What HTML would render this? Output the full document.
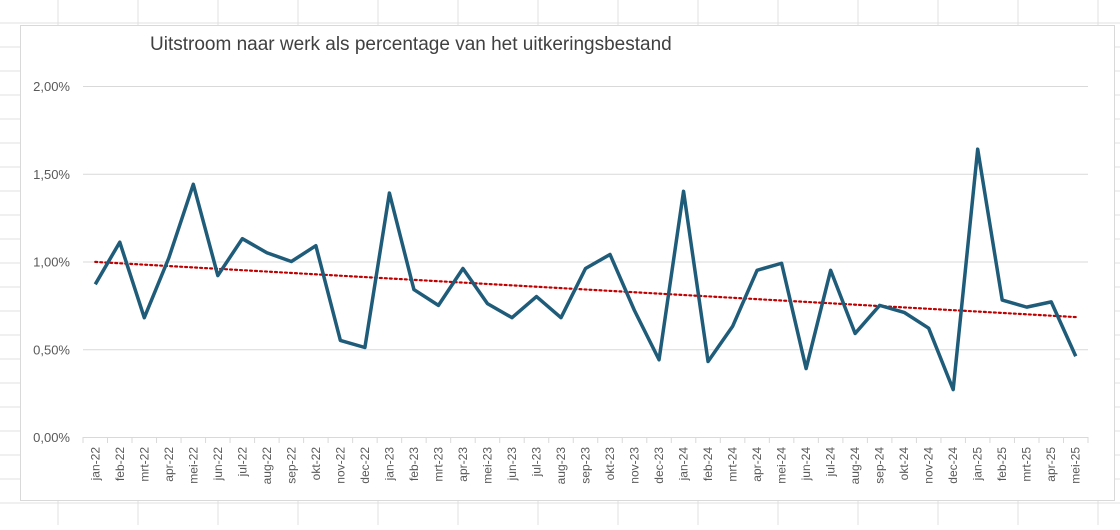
<!DOCTYPE html>
<html><head><meta charset="utf-8"><style>
body{margin:0;width:1120px;height:525px;overflow:hidden;background:#fff;font-family:"Liberation Sans",sans-serif}
</style></head><body>
<svg id="c" width="1120" height="525" xmlns="http://www.w3.org/2000/svg">
<g id="sheet"></g>
<rect x="20.5" y="25.5" width="1094" height="475" fill="#fff" stroke="#d9d9d9"/>
<text x="150" y="50" font-size="19" fill="#404040">Uitstroom naar werk als percentage van het uitkeringsbestand</text>
<g id="grid"></g>
<g id="yax"></g>
<g id="xax"></g>
<g id="plot"></g>
</svg>
<script>
const categories=["jan-22","feb-22","mrt-22","apr-22","mei-22","jun-22","jul-22","aug-22","sep-22","okt-22","nov-22","dec-22","jan-23","feb-23","mrt-23","apr-23","mei-23","jun-23","jul-23","aug-23","sep-23","okt-23","nov-23","dec-23","jan-24","feb-24","mrt-24","apr-24","mei-24","jun-24","jul-24","aug-24","sep-24","okt-24","nov-24","dec-24","jan-25","feb-25","mrt-25","apr-25","mei-25"];
const values=[0.87,1.11,0.68,1.02,1.44,0.92,1.13,1.05,1.00,1.09,0.55,0.51,1.39,0.84,0.75,0.96,0.76,0.68,0.80,0.68,0.96,1.04,0.72,0.44,1.40,0.43,0.63,0.95,0.99,0.39,0.95,0.59,0.75,0.71,0.62,0.27,1.64,0.78,0.74,0.77,0.46];
const yTicks=[0,0.5,1,1.5,2];
const yLabels=["0,00%","0,50%","1,00%","1,50%","2,00%"];
const NS="http://www.w3.org/2000/svg";
const L=83,R=1088,Y0=437,Y2=86,YMAX=2;
const step=(R-L)/categories.length;
const x=i=>L+step*(i+0.5);
const y=v=>Y0-(v/YMAX)*(Y0-Y2);
function mk(t,a,p){const e=document.createElementNS(NS,t);for(const k in a)e.setAttribute(k,a[k]);p.appendChild(e);return e;}
// sheet grid
const sh=document.getElementById('sheet');
for(let gx=58;gx<1120;gx+=80){const e=mk('line',{x1:gx,y1:0,x2:gx,y2:525,stroke:'#e0e0e0'},sh);

}
for(let gy=23;gy<525;gy+=24){const e=mk('line',{x1:0,y1:gy,x2:1120,y2:gy,stroke:'#e0e0e0'},sh);

}
const g=document.getElementById('grid'),ya=document.getElementById('yax'),xa=document.getElementById('xax'),p=document.getElementById('plot');
yTicks.forEach((t,i)=>{
 if(t>0){const l=mk('line',{x1:L,x2:R,y1:y(t)+0.5,y2:y(t)+0.5,stroke:'#d9d9d9'},g);
 
 }
 const tx=mk('text',{x:70,y:y(t)+5,'text-anchor':'end','font-size':13,fill:'#595959'},ya);tx.textContent=yLabels[i];
 
 
});
const ax=mk('line',{x1:L,x2:R,y1:Y0+0.5,y2:Y0+0.5,stroke:'#d9d9d9'},xa);


for(let i=0;i<=categories.length;i++){const tk=mk('line',{x1:L+step*i,x2:L+step*i,y1:Y0,y2:Y0+6,stroke:'#d9d9d9'},xa);

}
categories.forEach((c,i)=>{
 const tx=mk('text',{x:0,y:0,'text-anchor':'end','font-size':12,fill:'#595959',transform:`translate(${x(i)+4},${Y0+10}) rotate(-90)`},xa);tx.textContent=c;
 
 
});
// trend (linear regression from data)
const n=values.length;let sx=0,sy=0,sxy=0,sxx=0;
values.forEach((v,i)=>{sx+=i;sy+=v;sxy+=i*v;sxx+=i*i;});
const b=(n*sxy-sx*sy)/(n*sxx-sx*sx),a=(sy-b*sx)/n;
const tr=mk('line',{x1:x(0),y1:y(a),x2:x(n-1),y2:y(a+b*(n-1)),stroke:'#c00000','stroke-width':2.2,'stroke-dasharray':'2 3','stroke-linecap':'round'},p);


const pl=mk('polyline',{points:values.map((v,i)=>x(i)+','+y(v)).join(' '),fill:'none',stroke:'#1f5c7a','stroke-width':3.5,'stroke-linejoin':'round'},p);


</script>
</body></html>
